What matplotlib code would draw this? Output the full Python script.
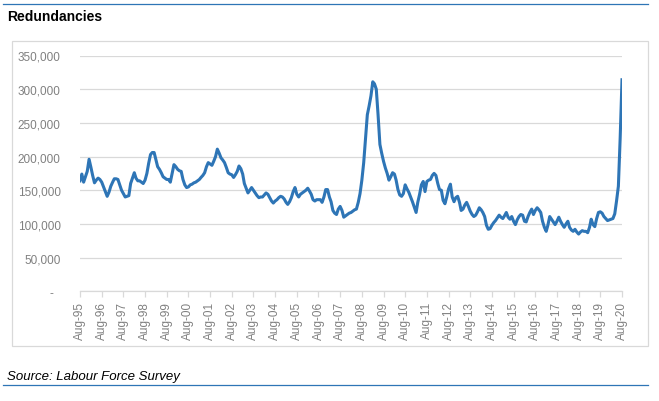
import numpy as np
import pandas as pd
import matplotlib
matplotlib.use("Agg")
import matplotlib.pyplot as plt
import matplotlib.dates as mdates
from matplotlib.patches import Rectangle
from matplotlib.lines import Line2D

plt.rcParams["font.family"] = ["Liberation Sans", "DejaVu Sans"]

# redundancies, thousands, 3-month rolling, Aug-95 .. Aug-20
y1995 = [164, 174, 162, 170, 178]  # Aug-Dec
y1996 = [196, 184, 172, 161, 165, 168, 166, 162, 155, 148, 141, 147]
y1997 = [156, 162, 167, 167, 166, 158, 150, 145, 140, 141, 142, 160]
y1998 = [168, 176, 168, 164, 164, 162, 160, 165, 175, 190, 203, 206]
y1999 = [206, 195, 185, 181, 176, 170, 168, 166, 166, 162, 175, 188]
y2000 = [185, 181, 179, 178, 166, 158, 154, 155, 158, 159, 161, 162]
y2001 = [164, 166, 169, 172, 176, 185, 191, 189, 187, 193, 200, 211]
y2002 = [205, 198, 195, 191, 184, 176, 174, 173, 169, 173, 178, 186]
y2003 = [182, 174, 160, 153, 146, 150, 154, 150, 146, 142, 139, 140]
y2004 = [140, 143, 146, 144, 139, 134, 131, 134, 136, 139, 141, 140]
y2005 = [137, 132, 129, 133, 139, 148, 154, 144, 140, 144, 146, 148]
y2006 = [150, 153, 149, 144, 136, 134, 136, 136, 136, 132, 140, 151]
y2007 = [151, 140, 133, 120, 116, 114, 122, 126, 120, 110, 112, 114]
y2008 = [116, 117, 119, 121, 122, 132, 145, 165, 191, 225, 262, 275]
y2009 = [290, 311, 308, 300, 262, 218, 205, 193, 183, 175, 165, 170]
y2010 = [176, 174, 165, 151, 143, 141, 145, 158, 152, 147, 140, 133]
y2011 = [125, 117, 132, 144, 158, 163, 148, 163, 165, 166, 172, 175]
y2012 = [172, 160, 151, 150, 135, 130, 140, 152, 159, 140, 133, 139]
y2013 = [141, 132, 120, 122, 128, 132, 126, 119, 114, 111, 113, 118]
y2014 = [124, 121, 117, 111, 98, 92, 93, 98, 102, 105, 109, 113]
y2015 = [110, 108, 112, 117, 110, 107, 111, 104, 99, 106, 111, 114]
y2016 = [113, 104, 103, 111, 117, 122, 114, 120, 124, 121, 117, 104]
y2017 = [95, 89, 98, 111, 107, 103, 99, 104, 110, 104, 99, 95]
y2018 = [100, 104, 95, 91, 89, 92, 88, 85, 88, 90, 89, 89]
y2019 = [87, 95, 107, 99, 96, 108, 117, 118, 116, 111, 108, 105]
y2020 = [106, 107, 108, 115, 134, 156, 227, 314]  # Jan-Aug

values = np.array(y1995 + y1996 + y1997 + y1998 + y1999 + y2000 + y2001 + y2002
                  + y2003 + y2004 + y2005 + y2006 + y2007 + y2008 + y2009 + y2010
                  + y2011 + y2012 + y2013 + y2014 + y2015 + y2016 + y2017 + y2018
                  + y2019 + y2020) * 1000
dates = pd.date_range("1995-08-01", periods=len(values), freq="MS")

y_ticks = [0, 50000, 100000, 150000, 200000, 250000, 300000, 350000]
y_labels = ["-  ", "50,000", "100,000", "150,000", "200,000", "250,000", "300,000", "350,000"]

blue = "#2E75B6"
grey_txt = "#808080"
grid_c = "#D9D9D9"

W, H = 659, 402
fig = plt.figure(figsize=(W / 100, H / 100), dpi=100)

# outer decoration
fig.add_artist(Line2D([3 / W, 648 / W], [1 - 5 / H, 1 - 5 / H], color=blue, lw=0.9))
fig.add_artist(Line2D([3 / W, 648 / W], [1 - 386 / H, 1 - 386 / H], color=blue, lw=0.9))
fig.add_artist(Rectangle((11.5 / W, 1 - 347 / H), (648 - 11.5) / W, (347 - 42) / H,
                         fill=False, edgecolor=grid_c, lw=0.9))
fig.text(7 / W, 1 - 17 / H, "Redundancies", fontsize=10, fontweight="bold",
         va="center", ha="left", color="black")
fig.text(7 / W, 1 - 377 / H, "Source: Labour Force Survey", fontsize=9.5,
         style="italic", va="center", ha="left", color="black")

ax = fig.add_axes([80 / W, 1 - 292.3 / H, (622 - 80) / W, (292.3 - 56.5) / H])
ax.plot(dates, values, color=blue, lw=2.2, solid_joinstyle="round")

ax.set_ylim(0, 350000)
ax.set_xlim(dates[0], dates[-1])
ax.set_yticks(y_ticks)
ax.set_yticklabels(y_labels)
ax.yaxis.grid(True, color=grid_c, lw=0.9)
ax.set_axisbelow(True)

ax.xaxis.set_major_locator(mdates.MonthLocator(bymonth=8))
ax.xaxis.set_major_formatter(mdates.DateFormatter("%b-%y"))
for lab in ax.get_xticklabels():
    lab.set_rotation(90)

for s in ["top", "right", "left"]:
    ax.spines[s].set_visible(False)
ax.spines["bottom"].set_color(grid_c)
ax.spines["bottom"].set_linewidth(0.9)
ax.tick_params(axis="y", length=0, pad=14, labelsize=8.5, labelcolor=grey_txt)
ax.tick_params(axis="x", length=4, width=0.9, color=grid_c, pad=3,
               labelsize=8.5, labelcolor=grey_txt)
ax.set_xticks(pd.date_range("1995-08-01", "2020-08-01", freq="12MS"))
ax.xaxis.set_major_formatter(mdates.DateFormatter("%b-%y"))
for lab in ax.get_xticklabels():
    lab.set_rotation(90)

fig.savefig("out.png", dpi=100)
